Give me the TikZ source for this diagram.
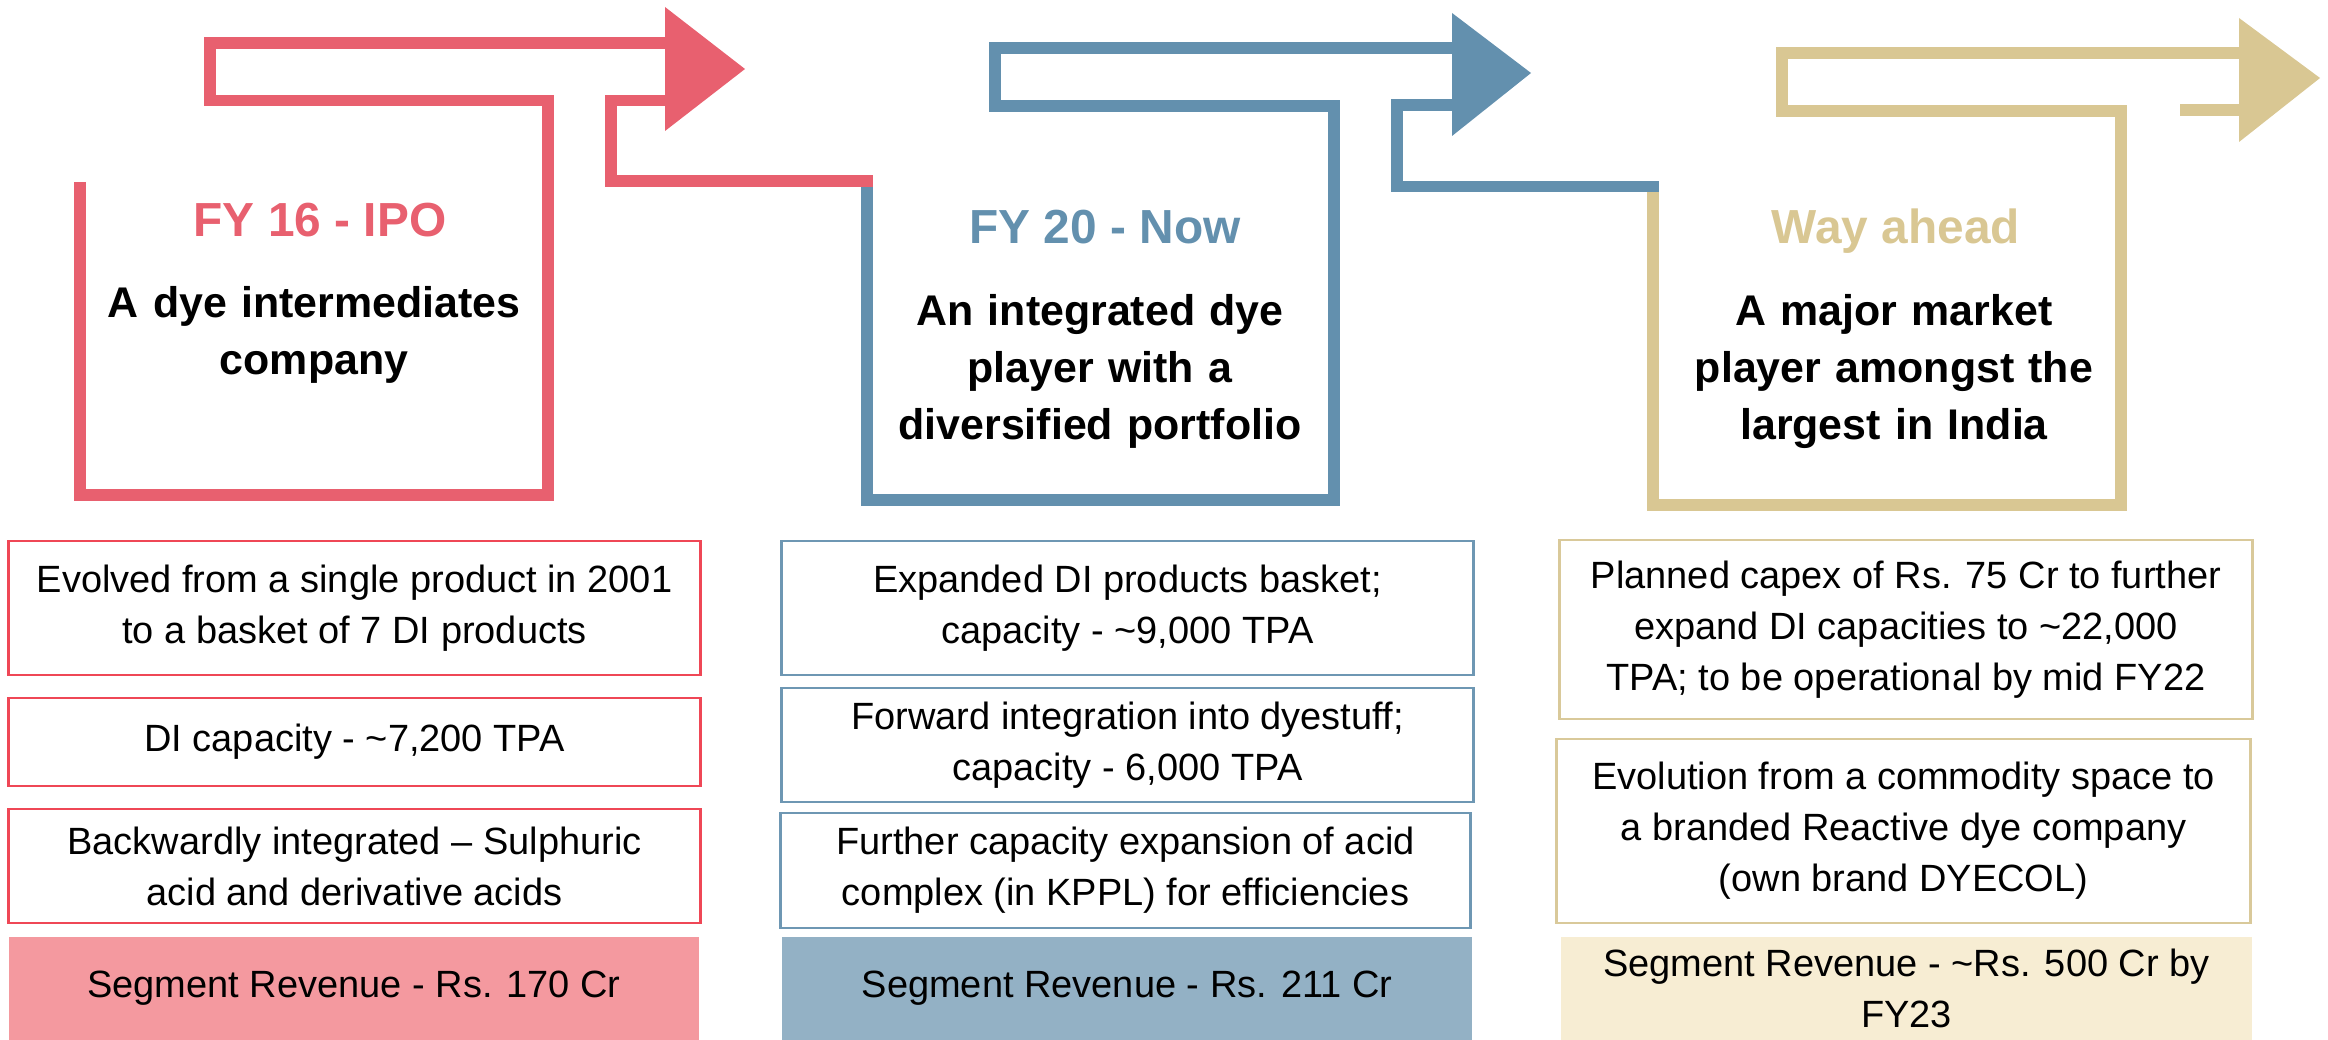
\documentclass[tikz,border=0pt]{standalone}
\usepackage{fontspec}
\setmainfont{Liberation Sans}

\definecolor{ribred}{HTML}{E8606F}
\definecolor{ribblue}{HTML}{6390AE}
\definecolor{ribgold}{HTML}{D9C793}
\definecolor{edgered}{HTML}{EF4756}
\definecolor{edgeblue}{HTML}{6E97B3}
\definecolor{edgegold}{HTML}{D9C99A}
\definecolor{fillred}{HTML}{F4999F}
\definecolor{fillblue}{HTML}{93B1C5}
\definecolor{fillgold}{HTML}{F7EDD3}

\begin{document}
\begin{tikzpicture}[x=0.01cm,y=-0.01cm,
  ribbon/.style={line width=0.115cm, line join=miter, line cap=butt},
  phase/.style={font=\fontsize{13.6}{16}\selectfont\bfseries, anchor=base, inner sep=0pt},
  lead/.style={font=\fontsize{12.2}{16.2}\selectfont\bfseries, text width=4.6cm, align=center, anchor=base, inner sep=0pt},
  fact/.style={draw, line width=0.8pt, align=center, inner sep=0pt,
    font=\fontsize{10.8}{14.5}\selectfont},
  revenue/.style={align=center, inner sep=0pt, font=\fontsize{10.8}{14.5}\selectfont}
]
\useasboundingbox (0,0) rectangle (2328,1040);

% ---------- ribbon arrows ----------
% stage 1
\draw[ribbon, ribred] (80,182) -- (80,495) -- (548,495) -- (548,100.5) -- (210,100.5) -- (210,43) -- (666,43);
\fill[ribred] (665,7) -- (745,69) -- (665,131) -- cycle;
\draw[ribbon, ribblue] (867,187) -- (867,500) -- (1334,500) -- (1334,106) -- (995,106) -- (995,48) -- (1453,48);
\draw[ribbon, ribred] (666,100.5) -- (611,100.5) -- (611,181) -- (872.75,181);
% stage 2
\fill[ribblue] (1452,13) -- (1531,73) -- (1452,136) -- cycle;
\draw[ribbon, ribgold] (1653,192) -- (1653,505) -- (2121,505) -- (2121,111) -- (1782,111) -- (1782,53) -- (2240,53);
\draw[ribbon, ribblue] (1453,105) -- (1397,105) -- (1397,186.5) -- (1658.75,186.5);
% stage 3
\fill[ribgold] (2239,18) -- (2320,78) -- (2239,142) -- cycle;
\draw[ribbon, ribgold] (2180,110) -- (2240,110);

% ---------- stage headings ----------
\node[phase, text=ribred]  (ph1) at (320,237)  {FY 16 - IPO};
\node[phase, text=ribblue] (ph2) at (1105,244) {FY 20 - Now};
\node[phase, text=ribgold] (ph3) at (1896,244) {Way ahead};

\node[lead] (ld1) at (314,318)  {A dye intermediates\\company};
\node[lead] (ld2) at (1100,326) {An integrated dye\\player with a\\diversified portfolio};
\node[lead] (ld3) at (1894,326) {A major market\\player amongst the\\largest in India};

% ---------- facts: FY 16 ----------
\node[fact, draw=edgered, minimum width=6.91cm, minimum height=1.34cm] (r1) at (354.5,608)
  {Evolved from a single product in 2001\\to a basket of 7 DI products};
\node[fact, draw=edgered, minimum width=6.91cm, minimum height=0.88cm] (r2) at (354.5,742)
  {DI capacity - \textasciitilde7,200 TPA};
\node[fact, draw=edgered, minimum width=6.91cm, minimum height=1.14cm] (r3) at (354.5,866)
  {Backwardly integrated \textendash{} Sulphuric\\acid and derivative acids};
\node[revenue, fill=fillred, minimum width=6.90cm, minimum height=1.03cm] (r4) at (354,988.5)
  {Segment Revenue - Rs. 170 Cr};

% ---------- facts: FY 20 ----------
\node[fact, draw=edgeblue, minimum width=6.91cm, minimum height=1.34cm] (b1) at (1127.5,608)
  {Expanded DI products basket;\\capacity - \textasciitilde9,000 TPA};
\node[fact, draw=edgeblue, minimum width=6.91cm, minimum height=1.14cm] (b2) at (1127.5,745)
  {Forward integration into dyestuff;\\capacity - 6,000 TPA};
\node[fact, draw=edgeblue, minimum width=6.89cm, minimum height=1.15cm] (b3) at (1125.5,870.5)
  {Further capacity expansion of acid\\complex (in KPPL) for efficiencies};
\node[revenue, fill=fillblue, minimum width=6.90cm, minimum height=1.03cm] (b4) at (1127,988.5)
  {Segment Revenue - Rs. 211 Cr};

% ---------- facts: way ahead ----------
\node[fact, draw=edgegold, minimum width=6.92cm, minimum height=1.79cm] (g1) at (1906,629.5)
  {Planned capex of Rs. 75 Cr to further\\expand DI capacities to \textasciitilde22,000\\TPA; to be operational by mid FY22};
\node[fact, draw=edgegold, minimum width=6.93cm, minimum height=1.84cm] (g2) at (1903.5,831)
  {Evolution from a commodity space to\\a branded Reactive dye company\\(own brand DYECOL)};
\node[revenue, fill=fillgold, minimum width=6.91cm, minimum height=1.03cm] (g4) at (1906.5,988.5)
  {Segment Revenue - \textasciitilde Rs. 500 Cr by\\FY23};
\end{tikzpicture}
\end{document}
